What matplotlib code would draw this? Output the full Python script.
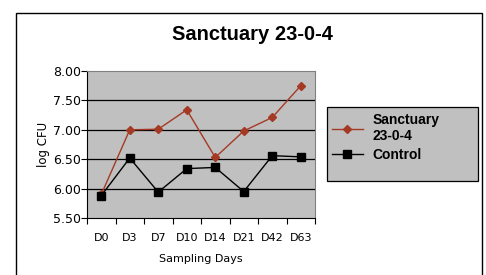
import matplotlib
matplotlib.use('Agg')
import matplotlib.pyplot as plt
from matplotlib.patches import Rectangle
import numpy as np

days = ['D0', 'D3', 'D7', 'D10', 'D14', 'D21', 'D42', 'D63']
sanctuary = [5.90, 7.00, 7.01, 7.34, 6.53, 6.98, 7.21, 7.75]
control = [5.88, 6.52, 5.94, 6.34, 6.36, 5.95, 6.56, 6.54]

red = '#A53A24'

fig = plt.figure(figsize=(4.86, 2.75), dpi=100)
fig.patch.set_facecolor('white')

# outer chart frame (bottom runs off the image)
fig.patches.append(Rectangle((16 / 486, -0.1), (482 - 16) / 486, 1.1 - 13 / 275,
                             transform=fig.transFigure, fill=False,
                             edgecolor='black', linewidth=1.0))
# legend box
fig.patches.append(Rectangle((327 / 486, 1 - 181 / 275), 151 / 486, 74 / 275,
                             transform=fig.transFigure, facecolor='#C0C0C0',
                             edgecolor='black', linewidth=0.9, zorder=1))

ax = fig.add_axes([87 / 486, 57 / 275, 228 / 486, 147 / 275])
ax.set_facecolor('#C0C0C0')

x = np.arange(len(days))
ax.plot(x, sanctuary, color=red, marker='D', markersize=4.5, linewidth=1.0,
        label='Sanctuary\n23-0-4')
ax.plot(x, control, color='black', marker='s', markersize=5.5, linewidth=1.0,
        label='Control')

ax.set_xlim(-0.5, len(days) - 0.5)
ax.set_ylim(5.5, 8.0)
ax.set_yticks([5.5, 6.0, 6.5, 7.0, 7.5, 8.0])
ax.set_yticklabels(['%.2f' % v for v in [5.5, 6.0, 6.5, 7.0, 7.5, 8.0]])
for v in [6.0, 6.5, 7.0, 7.5]:
    ax.axhline(v, color='black', linewidth=0.9, zorder=1)

ax.set_xticks(np.arange(-0.5, len(days), 1.0))
ax.set_xticklabels([])
ax.set_xticks(x, minor=True)
ax.set_xticklabels(days, minor=True)
ax.tick_params(axis='x', which='minor', length=0, pad=11, labelsize=8)
ax.tick_params(axis='x', which='major', length=4, direction='out', width=0.8)
ax.tick_params(axis='y', length=4, direction='out', width=0.8, labelsize=9, pad=0.5)

for s in ['top', 'right']:
    ax.spines[s].set_color('#808080')
ax.spines['left'].set_color('black')
ax.spines['bottom'].set_color('black')

ax.set_xlabel('Sampling Days', fontsize=8, labelpad=8)
ax.set_ylabel('log CFU', fontsize=8.5, labelpad=2)

fig.text(252 / 486, 1 - 34 / 275, 'Sanctuary 23-0-4', ha='center', va='center',
         fontsize=14.5, fontweight='bold', family='Liberation Sans')

handles, labels = ax.get_legend_handles_labels()
leg = fig.legend(handles, labels, loc='upper left',
                 bbox_to_anchor=(332 / 486, 1 - 113 / 275),
                 borderaxespad=0, borderpad=0, frameon=False,
                 prop={'family': 'Liberation Sans', 'weight': 'bold', 'size': 10},
                 handlelength=2.2, handletextpad=0.7, labelspacing=0.35)
leg.set_zorder(5)

fig.savefig('out.png', dpi=100)
